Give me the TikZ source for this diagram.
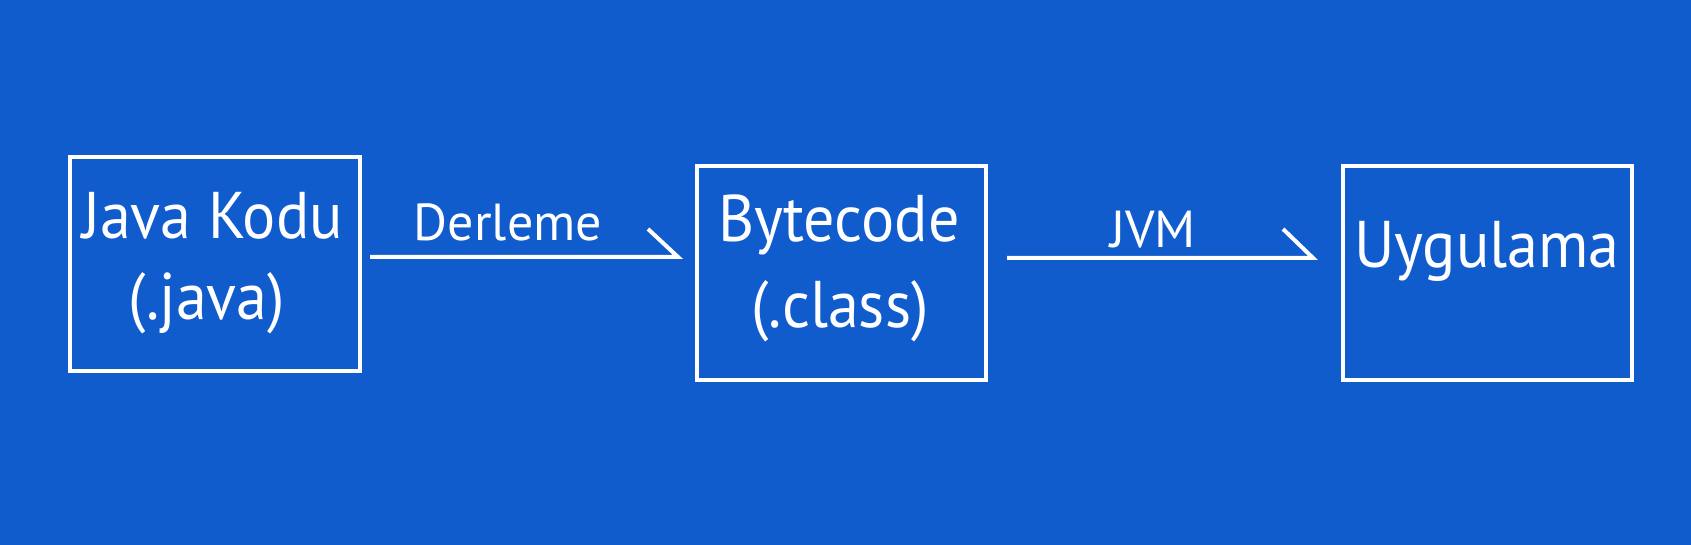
\documentclass[tikz,border=0pt]{standalone}
\usepackage{fontspec}
\setmainfont{PT Sans}
\newfontfamily\bigfont[FakeStretch=0.94]{PT Sans}
\usetikzlibrary{calc}
\definecolor{bg}{RGB}{16,92,204}
\begin{document}
\begin{tikzpicture}[x=0.5pt,y=-0.5pt,
  box/.style={draw=white,line width=2pt,inner sep=0pt,minimum height=107pt},
  lbl/.style={text=white,font=\bigfont\fontsize{33}{40}\selectfont,anchor=base,inner sep=0pt},
  elbl/.style={text=white,font=\fontsize{26}{30}\selectfont,anchor=base,inner sep=0pt},
  conn/.style={white,line width=2pt,line join=miter}]
\fill[bg] (0,0) rectangle (1691,545);
\useasboundingbox (0,0) rectangle (1691,545);
\node[box,minimum width=145pt] (b1) at (215,264) {};
\node[box,minimum width=144.5pt] (b2) at (841.5,273) {};
\node[box,minimum width=144.5pt] (b3) at (1487.5,273) {};
\node[lbl] (t1a) at (212.5,239) {Java Kodu};
\node[lbl] (t1b) at (207,320) {(.java)};
\node[lbl] (t2a) at (839,242) {Bytecode};
\node[lbl] (t2b) at (840,327) {(.class)};
\node[lbl] (t3) at (1487,268) {Uygulama};
\coordinate (a1s) at ($(b1.east)+(8,-7)$);
\coordinate (a1e) at ($(b2.west)+(-17,-16)$);
\coordinate (a2s) at ($(b2.east)+(19,-15)$);
\coordinate (a2e) at ($(b3.west)+(-28,-15)$);
\draw[conn] (a1s) -- (a1e) -- ++(-30,-28);
\draw[conn] (a2s) -- (a2e) -- ++(-30,-29);
\node[elbl] (l1) at (508,241) {Derleme};
\node[elbl] (l2) at (1153,248) {JVM};
\end{tikzpicture}
\end{document}
